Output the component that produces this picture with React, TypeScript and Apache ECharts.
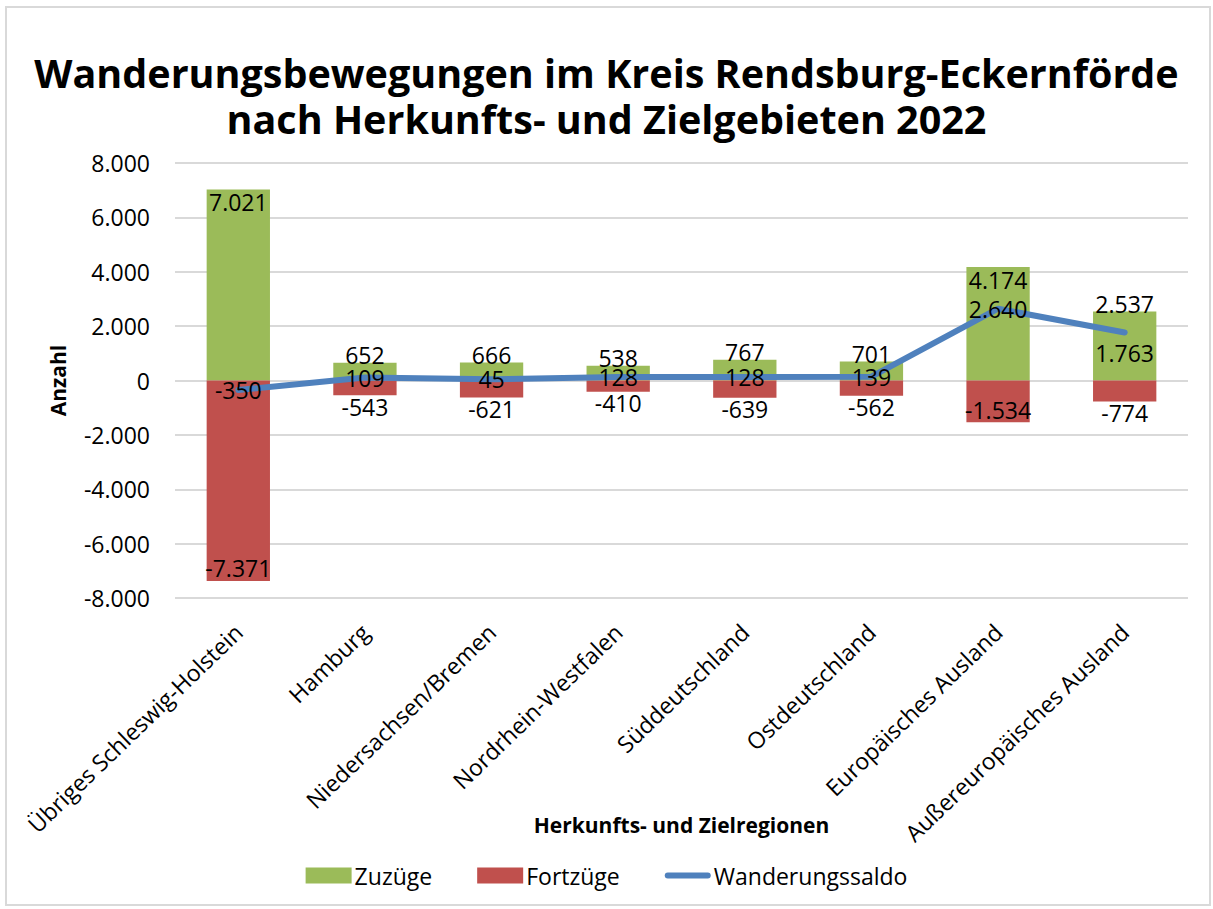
import React, { useEffect, useRef } from "react";
import * as echarts from "echarts";

const categories = [
  "Übriges Schleswig-Holstein",
  "Hamburg",
  "Niedersachsen/Bremen",
  "Nordrhein-Westfalen",
  "Süddeutschland",
  "Ostdeutschland",
  "Europäisches Ausland",
  "Außereuropäisches Ausland",
];
const zuzuege = [7021, 652, 666, 538, 767, 701, 4174, 2537];
const fortzuege = [-7371, -543, -621, -410, -639, -562, -1534, -774];
const saldo = [-350, 109, 45, 128, 128, 139, 2640, 1763];

const fmt = (v: number) => {
  const s = Math.abs(Math.round(v)).toString().replace(/\B(?=(\d{3})+(?!\d))/g, ".");
  return (v < 0 ? "-" : "") + s;
};

const FONT = "Open Sans";

export default function App() {
  const ref = useRef<HTMLDivElement>(null);
  useEffect(() => {
    const chart = echarts.init(ref.current!, null, { renderer: "svg" });
    const labelBase = { show: true, color: "#000", fontSize: 23, fontFamily: FONT, formatter: (p: any) => fmt(p.value) };
    chart.setOption({
      animation: false,
      backgroundColor: "#fff",
      textStyle: { fontFamily: FONT },
      title: {
        text: "Wanderungsbewegungen im Kreis Rendsburg-Eckernförde\nnach Herkunfts- und Zielgebieten 2022",
        left: "center",
        top: 45,
        textStyle: { fontSize: 39.5, fontWeight: "bold", color: "#000", lineHeight: 46, fontFamily: FONT },
      },
      graphic: [
        { type: "rect", shape: { x: 6, y: 7, width: 1204, height: 898 }, style: { fill: "none", stroke: "#d9d9d9", lineWidth: 2 }, silent: true },
      ],
      legend: {
        top: 859,
        left: "center",
        itemGap: 45,
        itemWidth: 46,
        itemHeight: 16,
        textStyle: { fontSize: 23, color: "#000", fontFamily: FONT, padding: [0, 0, 0, -2] },
        data: [
          { name: "Zuzüge", icon: "rect" },
          { name: "Fortzüge", icon: "rect" },
          { name: "Wanderungssaldo", icon: "path://M3,0H43A3,3 0 0 1 43,6H3A3,3 0 0 1 3,0Z" },
        ],
      },
      grid: { left: 175, right: 25, top: 163, bottom: 311, containLabel: false },
      xAxis: {
        type: "category",
        data: categories,
        axisLine: { show: false },
        axisTick: { show: false },
        axisLabel: { rotate: 44, fontSize: 23, color: "#000", margin: 30, interval: 0, fontFamily: FONT },
        name: "Herkunfts- und Zielregionen",
        nameLocation: "middle",
        nameGap: 216,
        nameMoveOverlap: false,
        nameTextStyle: { fontSize: 21, fontWeight: "bold", color: "#000", fontFamily: FONT },
      },
      yAxis: {
        type: "value",
        min: -8000,
        max: 8000,
        interval: 2000,
        axisLine: { show: false },
        axisTick: { show: false },
        splitLine: { lineStyle: { color: "#d9d9d9", width: 2 } },
        axisLabel: { fontSize: 23, color: "#000", margin: 25, formatter: (v: number) => fmt(v), fontFamily: FONT },
        name: "Anzahl",
        nameLocation: "middle",
        nameGap: 107,
        nameMoveOverlap: false,
        nameTextStyle: { fontSize: 21, fontWeight: "bold", color: "#000", fontFamily: FONT },
      },
      series: [
        {
          name: "Zuzüge",
          type: "bar",
          stack: "a",
          barWidth: "50%",
          itemStyle: { color: "#9BBB59" },
          data: zuzuege.map((v) => ({
            value: v,
            label: { ...labelBase, position: v > 3000 ? "insideTop" : "top", distance: v > 3000 ? 1 : -4 },
          })),
          z: 2,
        },
        {
          name: "Fortzüge",
          type: "bar",
          stack: "a",
          barWidth: "50%",
          itemStyle: { color: "#C0504D" },
          data: fortzuege.map((v) => ({
            value: v,
            label: { ...labelBase, position: v < -1000 ? "insideBottom" : "bottom", distance: v < -1000 ? 1 : 0 },
          })),
          z: 2,
        },
        {
          name: "Wanderungssaldo",
          type: "line",
          symbol: "circle",
          symbolSize: 0.1,
          showSymbol: true,
          lineStyle: { color: "#4F81BD", width: 6, cap: "round" },
          itemStyle: { color: "#4F81BD" },
          data: saldo.map((v, i) => ({
            value: v,
            label: { ...labelBase, position: i === saldo.length - 1 ? "bottom" : "inside", distance: 9 },
          })),
          z: 3,
        },
      ],
    });
    return () => chart.dispose();
  }, []);
  return <div ref={ref} style={{ position: "fixed", left: 0, top: 0, width: 1213, height: 909 }} />;
}
